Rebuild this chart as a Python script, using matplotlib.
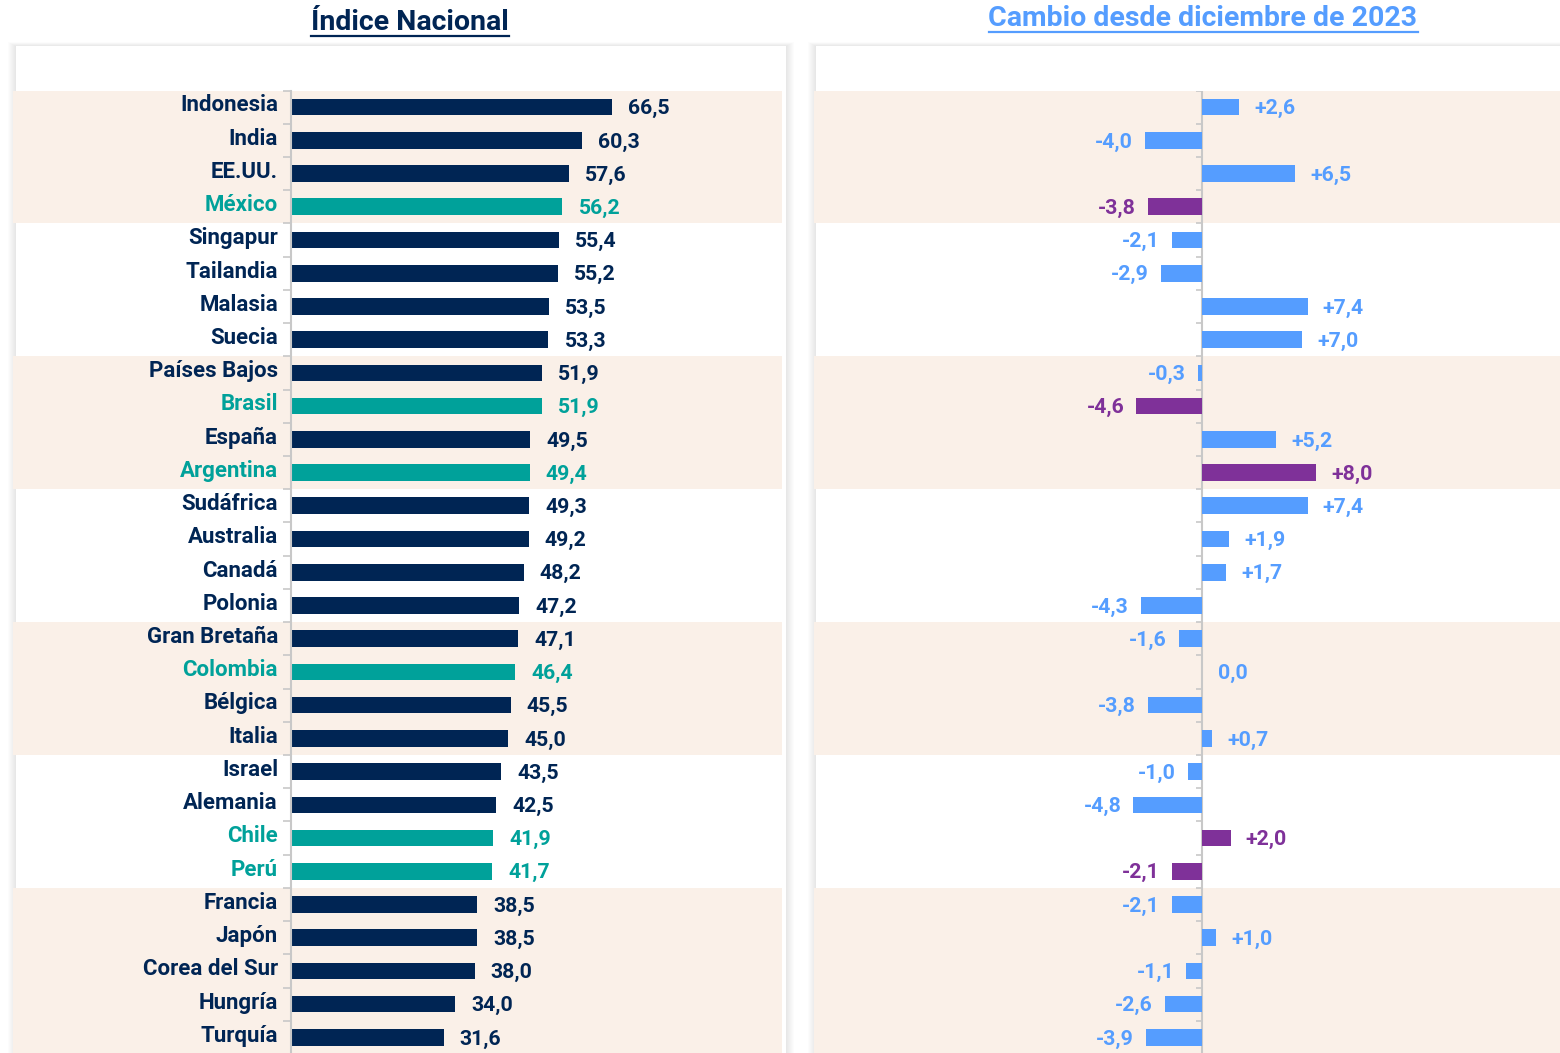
import matplotlib
matplotlib.use("Agg")
import matplotlib.pyplot as plt
from matplotlib.patches import Rectangle
from matplotlib.lines import Line2D
from matplotlib.transforms import blended_transform_factory

plt.rcParams['font.family'] = ['Roboto', 'DejaVu Sans']
plt.rcParams['font.weight'] = 'bold'

countries = ["Indonesia", "India", "EE.UU.", "México", "Singapur", "Tailandia",
             "Malasia", "Suecia", "Países Bajos", "Brasil", "España", "Argentina",
             "Sudáfrica", "Australia", "Canadá", "Polonia", "Gran Bretaña",
             "Colombia", "Bélgica", "Italia", "Israel", "Alemania", "Chile", "Perú",
             "Francia", "Japón", "Corea del Sur", "Hungría", "Turquía"]
index_vals = [66.5, 60.3, 57.6, 56.2, 55.4, 55.2, 53.5, 53.3, 51.9, 51.9, 49.5, 49.4,
              49.3, 49.2, 48.2, 47.2, 47.1, 46.4, 45.5, 45.0, 43.5, 42.5, 41.9, 41.7,
              38.5, 38.5, 38.0, 34.0, 31.6]
change_vals = [2.6, -4.0, 6.5, -3.8, -2.1, -2.9, 7.4, 7.0, -0.3, -4.6, 5.2, 8.0,
               7.4, 1.9, 1.7, -4.3, -1.6, 0.0, -3.8, 0.7, -1.0, -4.8, 2.0, -2.1,
               -2.1, 1.0, -1.1, -2.6, -3.9]
latam = ["México", "Brasil", "Argentina", "Colombia", "Chile", "Perú"]
# row groups with shaded background (first, last)
shaded_groups = [(0, 3), (8, 11), (16, 19), (24, 28)]

NAVY = "#002554"
TEAL = "#00A19A"
BLUE = "#559DFF"
PURPLE = "#7F3199"
BAND = "#FAF0E8"
AXCOL = "#C8C8C8"

W, H = 1560, 1053
fig = plt.figure(figsize=(W / 100, H / 100), dpi=100)

def fx(px):
    return px / W

def fy(py):
    return 1 - py / H

n = len(countries)
ys = list(range(n))
ax_bottom = fy(1054)
ax_h = fy(90.5) - ax_bottom

# cards with soft shadow
for x0, x1 in [(16, 786), (816, 1575)]:
    for d in range(1, 9):
        fig.patches.append(Rectangle((fx(x0 - d), 0), fx(x1 - x0 + 2 * d), fy(46 - d * 0.5),
                                     transform=fig.transFigure, facecolor="#000000",
                                     alpha=0.010, edgecolor="none", zorder=-10))
    fig.patches.append(Rectangle((fx(x0), 0), fx(x1 - x0), fy(46),
                                 transform=fig.transFigure, facecolor="white",
                                 edgecolor="none", zorder=-5))

axL = fig.add_axes([fx(291), ax_bottom, fx(782 - 291), ax_h])
axR = fig.add_axes([fx(815), ax_bottom, fx(1560 - 815), ax_h])

px_per_unit_L = 4.83
px_per_unit_R = 14.3

for ax in (axL, axR):
    ax.set_facecolor("none")
    ax.set_ylim(n - 0.5, -0.5)
    for s in ["top", "right", "bottom"]:
        ax.spines[s].set_visible(False)
    ax.set_xticks([])
    ax.set_yticks([i - 0.5 for i in range(n + 1)])
    ax.set_yticklabels([])
    ax.tick_params(axis="y", length=6, color=AXCOL, width=1.2)

axL.set_xlim(0, (782 - 291) / px_per_unit_L)
axL.spines["left"].set_color(AXCOL)
axL.spines["left"].set_linewidth(1.5)

axR.set_xlim(-(1202 - 815) / px_per_unit_R, (1560 - 1202) / px_per_unit_R)
axR.spines["left"].set_visible(False)
axR.axvline(0, color=AXCOL, lw=1.5, zorder=1)
axR.tick_params(axis="y", length=0)
# tick marks at zero line
for i in range(n + 1):
    axR.plot([-0.42, 0], [i - 0.5, i - 0.5], color=AXCOL, lw=1.2, zorder=1,
             solid_capstyle="butt")

# shaded bands
for ax, (x0, x1) in [(axL, (13, 782)), (axR, (814, 1560))]:
    tr = blended_transform_factory(fig.transFigure, ax.transData)
    for a, b in shaded_groups:
        fig.patches.append(Rectangle((fx(x0), a - 0.5), fx(x1 - x0), b - a + 1,
                                     transform=tr, facecolor=BAND, edgecolor="none",
                                     zorder=-1))

fmt = lambda v: f"{v:.1f}".replace(".", ",")
FS_LAB = 16
FS_VAL = 15.3

trL = blended_transform_factory(fig.transFigure, axL.transData)
for y, c, v in zip(ys, countries, index_vals):
    col = TEAL if c in latam else NAVY
    axL.barh(y, v, height=0.5, color=col, zorder=2)
    axL.text(v + 16 / px_per_unit_L, y + 0.05, fmt(v), color=col, fontsize=FS_VAL,
             fontweight="bold", ha="left", va="center")
    axL.text(fx(278), y - 0.05, c, transform=trL, color=col, fontsize=FS_LAB,
             fontweight="bold", ha="right", va="center")

for y, c, v in zip(ys, countries, change_vals):
    hl = c in latam
    col = PURPLE if hl else BLUE
    axR.barh(y, v, height=0.5, color=col, zorder=2)
    lab_col = col if v != 0 else BLUE
    if v > 0:
        axR.text(v + 15 / px_per_unit_R, y + 0.05, "+" + fmt(v), color=lab_col,
                 fontsize=FS_VAL, fontweight="bold", ha="left", va="center")
    elif v < 0:
        axR.text(v - 12 / px_per_unit_R, y + 0.05, fmt(v), color=lab_col,
                 fontsize=FS_VAL, fontweight="bold", ha="right", va="center")
    else:
        axR.text(16 / px_per_unit_R, y + 0.05, fmt(v), color=lab_col,
                 fontsize=FS_VAL, fontweight="bold", ha="left", va="center")

# titles with underline
t1 = fig.text(fx(410), fy(23), "Índice Nacional", color=NAVY, fontsize=20.5,
              fontweight="bold", ha="center", va="center")
t2 = fig.text(fx(1203), fy(19), "Cambio desde diciembre de 2023", color=BLUE,
              fontsize=20.5, fontweight="bold", ha="center", va="center")
fig.canvas.draw()
r = fig.canvas.get_renderer()
for t, col in [(t1, NAVY), (t2, BLUE)]:
    bb = t.get_window_extent(r)
    yline = bb.y0 + 0.5
    fig.add_artist(Line2D([bb.x0 / W, bb.x1 / W], [yline / H, yline / H],
                          transform=fig.transFigure, color=col, lw=1.6))

fig.savefig("out.png", dpi=100)
